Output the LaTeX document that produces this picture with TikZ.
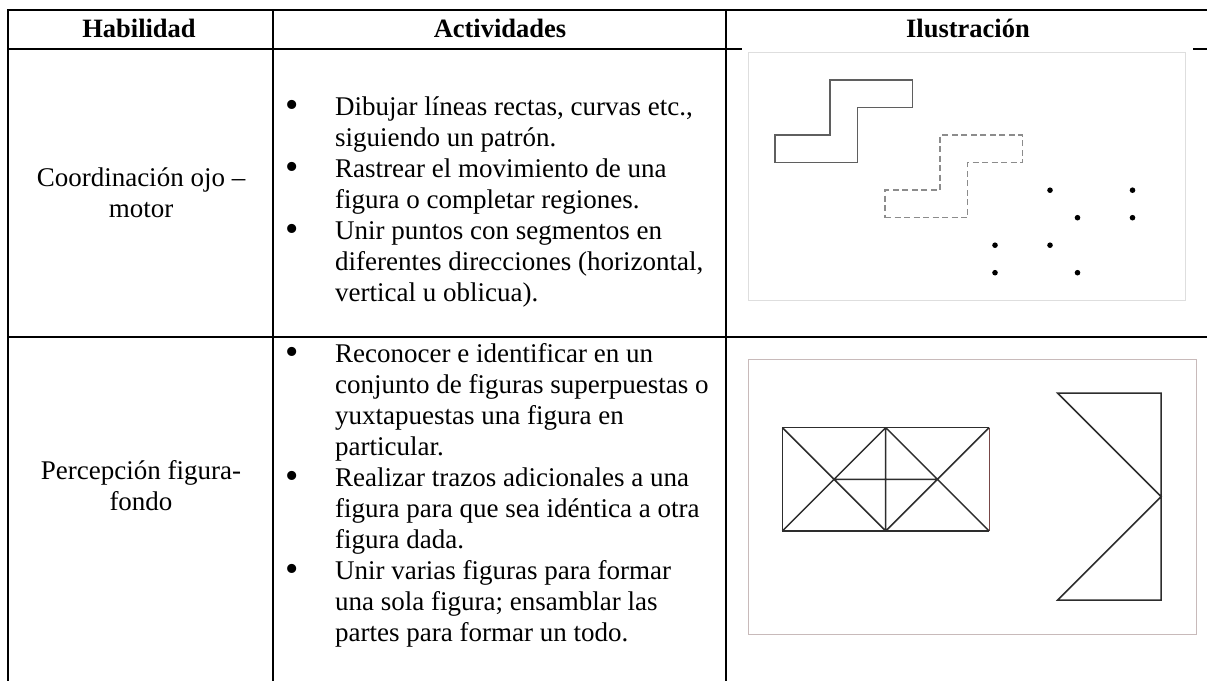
\documentclass[tikz,border=0pt]{standalone}
\usepackage{fontspec}
\setmainfont{Liberation Serif}
\usetikzlibrary{calc,positioning}

\begin{document}
\begin{tikzpicture}[x=1pt, y=-1pt]

  % Define colors
  \definecolor{framegray}{RGB}{222,222,222}
  \definecolor{framerose}{RGB}{200,186,186}
  \definecolor{shapegray}{RGB}{95,95,95}
  \definecolor{dashgray}{RGB}{140,140,140}
  \definecolor{figdark}{RGB}{45,45,45}
  \definecolor{edgebrown}{RGB}{120,70,70}

  \tikzset{
    rule/.style={line width=2pt, black, line cap=rect},
    cell/.style={font=\fontsize{27}{31}\selectfont, inner sep=0pt},
    headcell/.style={cell, font=\fontsize{26.5}{31}\selectfont\bfseries, anchor=base},
    item/.style={cell, anchor=base west, align=left},
    bullet/.style={cell, font=\fontsize{38}{31}\selectfont, anchor=base},
    solidline/.style={shapegray, line width=1.5pt},
    dashline/.style={dashgray, line width=1.5pt, dash pattern=on 6pt off 3.5pt},
    figline/.style={figdark, line width=1.5pt}
  }

  \useasboundingbox (0,0) rectangle (1207,680);
  \fill[white] (0,0) rectangle (1207,680);

  % Table rules
  \foreach \y in {10,49,337} \draw[rule] (8,\y) -- (1207,\y);
  \foreach \x in {8,273,726} \draw[rule] (\x,10) -- (\x,680);

  % Header row
  \node[headcell] (hHab) at (139,37.5) {Habilidad};
  \node[headcell] (hAct) at (500,37.5) {Actividades};
  \node[headcell] (hIlu) at (968,37.5) {Ilustración};

  % Skills
  \node[cell, align=center] (skill1) at (141,193) {Coordinación ojo –\\motor};
  \node[cell, align=center] (skill2) at (141,486) {Percepción figura-\\fondo};

  % Activities, first row (placed at the baseline of the last line)
  \node[item] (act1) at (335,146) {Dibujar líneas rectas, curvas etc.,\\siguiendo un patrón.};
  \node[item] (act2) at (335,208) {Rastrear el movimiento de una\\figura o completar regiones.};
  \node[item] (act3) at (335,301) {Unir puntos con segmentos en\\diferentes direcciones (horizontal,\\vertical u oblicua).};

  % Activities, second row
  \node[item] (act4) at (335,455) {Reconocer e identificar en un\\conjunto de figuras superpuestas o\\yuxtapuestas una figura en\\particular.};
  \node[item] (act5) at (335,548) {Realizar trazos adicionales a una\\figura para que sea idéntica a otra\\figura dada.};
  \node[item] (act6) at (335,641) {Unir varias figuras para formar\\una sola figura; ensamblar las\\partes para formar un todo.};

  % Bullets on the first line of each activity
  \foreach \a/\y in {1/115, 2/177, 3/239, 4/362, 5/486, 6/579}
    \node[bullet] (dot\a) at (292,\y+2) {\textbullet};

  % Illustration 1: eye-motor coordination
  \fill[white] (742,47) rectangle (1193,306);
  \draw[framegray, line width=1pt] (748,52) rectangle (1185,300);
  \begin{scope}[shift={(775,162.7)}, x=27.5pt, y=27.5pt]
    \foreach \s/\dx/\dy in {solidline/0/0, dashline/4/-2}
      \draw[\s, shift={(\dx,\dy)}] (0,0) -- (3,0) -- (3,2) -- (5,2) -- (5,3) -- (2,3) -- (2,1) -- (0,1) -- cycle;
    \foreach \p in {(10,-1),(13,-1),(11,-2),(13,-2),(8,-3),(10,-3),(8,-4),(11,-4)}
      \fill \p circle (2.8pt);
  \end{scope}

  % Illustration 2: figure-ground
  \draw[framerose, line width=1pt] (748,359) rectangle (1196,634);
  \begin{scope}[shift={(782.3,531)}, x=51.7pt, y=51.7pt]
    \draw[figline] (4,0) -- (0,0) -- (0,2) -- (4,2);
    \draw[edgebrown, line width=1pt] (4,0) -- (4,2);
    \draw[figline] (2,0) -- (2,2) (0,0) -- (2,2) (0,2) -- (2,0)
      (2,0) -- (4,2) (2,2) -- (4,0) (1,1) -- (3,1);
  \end{scope}
  \begin{scope}[shift={(1057.7,600)}, x=51.7pt, y=51.7pt]
    \draw[figline] (0,4) -- (2,4) -- (2,0) -- (0,0) -- (2,2) -- cycle;
  \end{scope}

\end{tikzpicture}
\end{document}
